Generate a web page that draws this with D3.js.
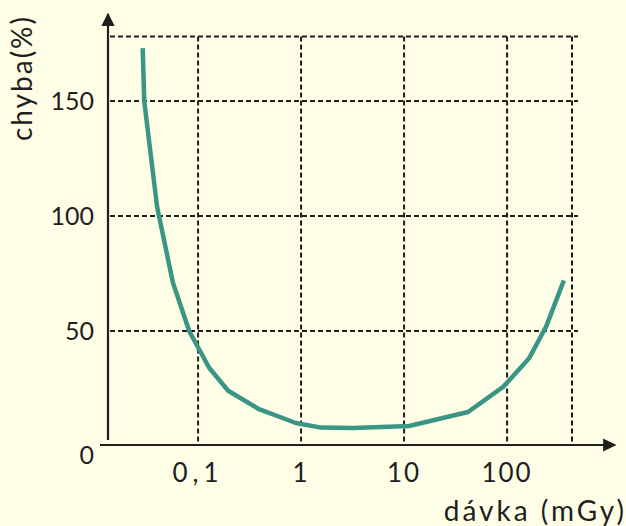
<!DOCTYPE html>
<html>
<head>
<meta charset="utf-8">
<script src="https://cdn.jsdelivr.net/npm/d3@7"></script>
<style>
  body { margin: 0; background: #fefee6; }
  svg { display: block; font-family: "Lato", "DejaVu Sans", sans-serif; }
</style>
</head>
<body>
<div id="chart"></div>
<script>
// dose (mGy) vs error (%)
const doses  = [0.029, 0.030, 0.040, 0.057, 0.082, 0.128, 0.196, 0.39, 0.89, 1.56, 3.2, 11.2, 41.8, 91.6, 163, 240, 356];
const errors = [173, 150, 104, 71, 50, 34, 24, 16, 10, 8, 7.8, 8.7, 14.8, 25.7, 38, 52, 72];

const xTicks = [0.1, 1, 10, 100];
const xTickLabels = ["0,1", "1", "10", "100"];
const yTicks = [0, 50, 100, 150];
const yGrid = [50, 100, 150, 178];

const xDomain = [0.01335, 427];
const yDomain = [0, 178];

const width = 626, height = 526;

const svg = d3.select("#chart").append("svg")
  .attr("width", width)
  .attr("height", height);

svg.append("rect").attr("width", width).attr("height", height).attr("fill", "#fefee6");

const x = d3.scaleLog().domain(xDomain).range([108, 572]);
const y = d3.scaleLinear().domain(yDomain).range([446, 36.6]);

const ink = "#1f1f1f";

// ----- dashed grid -----
const grid = svg.append("g")
  .attr("stroke", ink)
  .attr("stroke-width", 2)
  .attr("stroke-dasharray", "5,3")
  .attr("fill", "none");

grid.selectAll(".h")
  .data(yGrid)
  .enter().append("line")
  .attr("x1", x(xDomain[0]) + 2)
  .attr("x2", x(xDomain[1]) + 6)
  .attr("y1", d => y(d))
  .attr("y2", d => y(d));

grid.selectAll(".v")
  .data(xTicks.concat([xDomain[1]]))
  .enter().append("line")
  .attr("x1", d => x(d))
  .attr("x2", d => x(d))
  .attr("y1", y(yDomain[1]))
  .attr("y2", y(0) - 2);

// ----- axes with arrows -----
const defs = svg.append("defs");
defs.append("marker")
  .attr("id", "arrow")
  .attr("viewBox", "0 0 10 10")
  .attr("refX", 9).attr("refY", 5)
  .attr("markerWidth", 6).attr("markerHeight", 6)
  .attr("markerUnits", "strokeWidth")
  .attr("orient", "auto")
  .append("path")
  .attr("d", "M0,0 L10,5 L0,10 z")
  .attr("fill", ink);

svg.append("line")
  .attr("x1", 108).attr("x2", 108)
  .attr("y1", 440).attr("y2", 14)
  .attr("stroke", ink).attr("stroke-width", 2.2)
  .attr("marker-end", "url(#arrow)");

svg.append("line")
  .attr("x1", 100).attr("x2", 615)
  .attr("y1", 445).attr("y2", 445)
  .attr("stroke", ink).attr("stroke-width", 2.2)
  .attr("marker-end", "url(#arrow)");

// ----- curve -----
const pts = doses.map((d, i) => ({ dose: d, err: errors[i] }));
const line = d3.line()
  .x(d => x(d.dose))
  .y(d => y(d.err));

svg.append("path")
  .datum(pts)
  .attr("fill", "none")
  .attr("stroke", "#3a9585")
  .attr("stroke-width", 4.5)
  .attr("stroke-linejoin", "round")
  .attr("d", line);

// ----- tick labels -----
const txt = svg.append("g")
  .attr("fill", ink)
  .attr("font-size", 25);

txt.selectAll(".yl")
  .data(yTicks)
  .enter().append("text")
  .attr("x", 94)
  .attr("y", d => d === 0 ? y(d) + 9 : y(d))
  .attr("dy", "0.35em")
  .attr("text-anchor", "end")
  .text(d => d);

txt.selectAll(".xl")
  .data(xTicks)
  .enter().append("text")
  .attr("x", d => x(d))
  .attr("y", 482)
  .attr("text-anchor", "middle")
  .attr("font-size", 26)
  .attr("letter-spacing", d => d === 0.1 ? 5 : 2)
  .text((d, i) => xTickLabels[i]);

txt.append("text")
  .attr("x", 627)
  .attr("y", 521)
  .attr("text-anchor", "end")
  .attr("font-size", 28)
  .attr("letter-spacing", 3)
  .text("dávka (mGy)");

txt.append("text")
  .attr("transform", "translate(32,78) rotate(-90)")
  .attr("text-anchor", "middle")
  .attr("font-size", 28)
  .attr("letter-spacing", 2)
  .text("chyba(%)");
</script>
</body>
</html>
